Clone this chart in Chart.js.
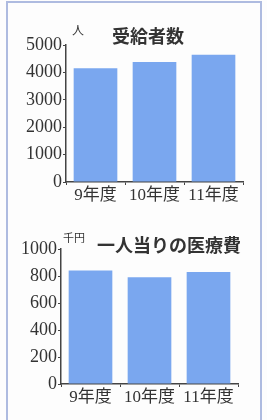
<!DOCTYPE html>
<html>
<head>
<meta charset="utf-8">
<script src="https://cdn.jsdelivr.net/npm/chart.js@4"></script>
<style>
  body { margin: 0; background: #fff; }
  #wrap { position: relative; width: 267px; height: 420px; overflow: hidden; background: #fdfdfd; }
  #frame { position: absolute; left: 6px; top: 1px; width: 252px; height: 440px; border: 2px solid #aebbe0; border-bottom: none; }
  .box { position: absolute; left: 0; width: 267px; }
  .title { position: absolute; font-family: "Noto Sans CJK JP", sans-serif; font-weight: bold; font-size: 18px; color: #333; line-height: 1; }
  .unit { position: absolute; font-family: "Noto Sans CJK JP", serif; font-size: 12px; color: #333; line-height: 1; }
</style>
</head>
<body>
<div id="wrap">
  <div id="frame"></div>
  <div class="box" style="top:0;height:215px"><canvas id="chart1"></canvas></div>
  <div class="box" style="top:210px;height:210px"><canvas id="chart2"></canvas></div>
  <div class="title" style="left:112px;top:26px">受給者数</div>
  <div class="unit" style="left:72px;top:24px">人</div>
  <div class="title" style="left:97px;top:235px">一人当りの医療費</div>
  <div class="unit" style="left:63px;top:232px;font-size:11px">千円</div>
</div>
<script>
// data
const years = ['9年度', '10年度', '11年度'];
const recipients = [4150, 4380, 4640];     // 受給者数 (人)
const costPerPerson = [840, 790, 830];     // 一人当りの医療費 (千円)
const recipientTicks = [0, 1000, 2000, 3000, 4000, 5000];
const costTicks = [0, 200, 400, 600, 800, 1000];

const barColor = '#7aa7ef';
const axisColor = '#444';
const serif = '"Liberation Serif", "Noto Sans CJK JP", serif';

function makeChart(id, values, ticks, yWidth, pad, xHeight) {
    const ctx = document.getElementById(id).getContext('2d');
    return new Chart(ctx, {
        type: 'bar',
        data: {
            labels: years,
            datasets: [{
                data: values,
                backgroundColor: barColor,
                borderWidth: 0,
                barPercentage: 0.74,
                categoryPercentage: 1,
            }],
        },
        options: {
            responsive: true,
            maintainAspectRatio: false,
            animation: false,
            layout: { padding: pad },
            plugins: { legend: { display: false }, tooltip: { enabled: false } },
            scales: {
                x: {
                    border: { color: axisColor, width: 1.5 },
                    grid: { display: true, drawOnChartArea: false, tickLength: 3, color: axisColor, offset: true },
                    ticks: { color: '#333', font: { family: serif, size: 17 }, padding: 0, maxRotation: 0 },
                    afterFit: (s) => { s.height = xHeight; },
                },
                y: {
                    min: ticks[0],
                    max: ticks[ticks.length - 1],
                    afterBuildTicks: (s) => { s.ticks = ticks.map(v => ({ value: v })); },
                    border: { color: axisColor, width: 1.5 },
                    grid: { drawOnChartArea: false, tickLength: 3, color: axisColor },
                    ticks: { color: '#333', font: { family: serif, size: 18 }, padding: 1, callback: (v) => String(v) },
                    afterFit: (s) => { s.width = yWidth; },
                },
            },
        },
    });
}

makeChart('chart1', recipients, recipientTicks, 66, { top: 45, right: 24, bottom: 3, left: 0 }, 30);
makeChart('chart2', costPerPerson, costTicks, 61, { top: 39, right: 29, bottom: 3, left: 0 }, 33);
</script>
</body>
</html>
